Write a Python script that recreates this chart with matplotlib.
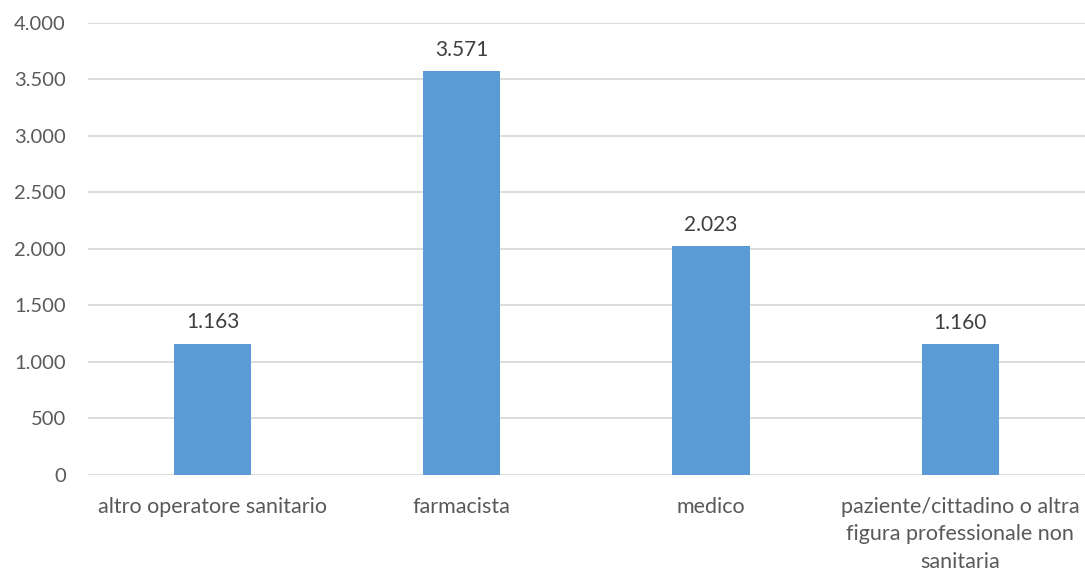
import matplotlib.pyplot as plt
from matplotlib.ticker import FuncFormatter

categories = ['altro operatore sanitario', 'farmacista', 'medico',
              'paziente/cittadino o altra\nfigura professionale non\nsanitaria']
values = [1163, 3571, 2023, 1160]
yticks = [0, 500, 1000, 1500, 2000, 2500, 3000, 3500, 4000]

plt.rcParams['font.family'] = ['Lato', 'DejaVu Sans']

fig = plt.figure(figsize=(10.85, 5.74), dpi=100)
ax = fig.add_axes([0.081, 0.1725, 0.919, 0.7875])

x = range(len(categories))
bars = ax.bar(x, values, width=0.31, color='#5B9BD5', zorder=3)

def fmt(v, pos=None):
    return f'{int(v):,}'.replace(',', '.')

for b, v in zip(bars, values):
    ax.text(b.get_x() + b.get_width() / 2, v + 100, fmt(v), ha='center', va='bottom',
            fontsize=15, color='#404040')

ax.set_xlim(-0.5, len(categories) - 0.5)
ax.set_ylim(0, 4000)
ax.set_yticks(yticks)
ax.yaxis.set_major_formatter(FuncFormatter(fmt))
ax.set_xticks(list(x))
ax.set_xticklabels(categories, linespacing=1.45)
ax.tick_params(axis='both', length=0, labelcolor='#595959')
ax.tick_params(axis='y', pad=16, labelsize=14.5)
ax.tick_params(axis='x', pad=16, labelsize=15.5)
ax.grid(axis='y', color='#D9D9D9', linewidth=1.3, zorder=0)
for s in ax.spines.values():
    s.set_visible(False)

fig.savefig('out.png', dpi=100)
